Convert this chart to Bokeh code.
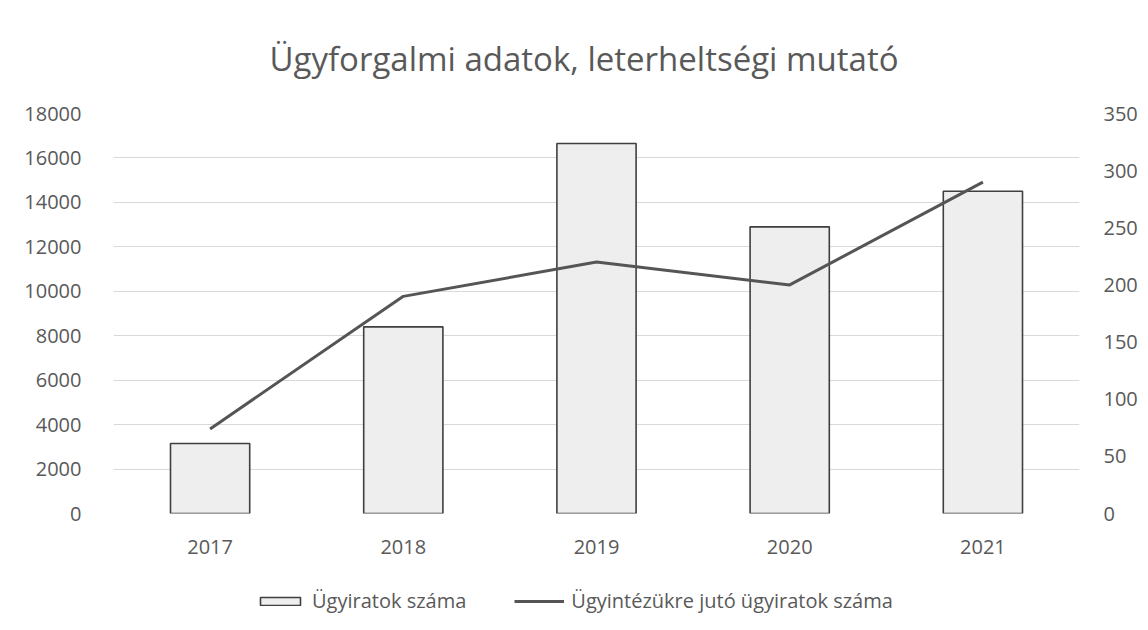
from bokeh.plotting import figure
from bokeh.layouts import column
from bokeh.models import (Range1d, LinearAxis, SingleIntervalTicker, Legend, LegendItem,
                          Title, FactorRange, ColumnDataSource)
from bokeh.embed import file_html
from bokeh.resources import INLINE

years = ["2017", "2018", "2019", "2020", "2021"]
ugyiratok = [3150, 8400, 16650, 12900, 14500]
per_ugyintezo = [74, 190, 220, 200, 290]
title_text = "Ügyforgalmi adatok, leterheltségi mutató"
bar_label = "Ügyiratok száma"
line_label = "Ügyintézükre jutó ügyiratok száma"

FONT = "Open Sans"
TXT = "#595959"
BAR_FILL = "#eeeeee"
BAR_LINE = "#3f3f3f"
LINE_COL = "#555555"

src = ColumnDataSource(dict(x=years, bars=ugyiratok, line=per_ugyintezo))

p = figure(width=1140, height=575, x_range=FactorRange(*years, range_padding=0),
           y_range=Range1d(0, 18000), output_backend="svg", toolbar_location=None,
           min_border_left=113, min_border_right=55, min_border_top=113, min_border_bottom=62)
p.extra_y_ranges = {"r": Range1d(0, 350)}
p.outline_line_color = None
p.background_fill_color = "white"
p.border_fill_color = "white"

p.add_layout(Title(text=title_text, align="left", offset=156, text_font=FONT,
                   text_font_size="33px", text_color=TXT, text_font_style="normal",
                   standoff=65), "above")

p.xgrid.grid_line_color = None
p.ygrid.grid_line_color = "#d9d9d9"
p.ygrid.grid_line_width = 1

yl = p.yaxis[0]
yl.ticker = SingleIntervalTicker(interval=2000)
yr = LinearAxis(y_range_name="r", ticker=SingleIntervalTicker(interval=50))
p.add_layout(yr, "right")

for ax in [p.xaxis[0], yl, yr]:
    ax.axis_line_color = None
    ax.major_tick_line_color = None
    ax.minor_tick_line_color = None
    ax.major_label_text_font = FONT
    ax.major_label_text_font_size = "20px"
    ax.major_label_text_color = TXT
yl.major_label_standoff = 26
yr.major_label_standoff = 18
p.xaxis[0].major_label_standoff = 20

p.vbar(x="x", top="bars", width=0.41, source=src, fill_color=BAR_FILL,
       line_color=BAR_LINE, line_width=1.6)
p.line(x="x", y="line", source=src, y_range_name="r", line_color=LINE_COL, line_width=3)

# legend strip below the chart (its renderers are hidden; only the legend shows)
lg = figure(width=1140, height=47, x_range=FactorRange(*years), y_range=Range1d(-200, -100),
            output_backend="svg", toolbar_location=None, min_border=0,
            x_axis_type=None, y_axis_type=None)
lg.grid.visible = False
lg.outline_line_color = None
rb = lg.vbar(x="x", top="bars", width=0.41, source=src, fill_color=BAR_FILL,
             line_color=BAR_LINE, line_width=1.6, visible=False)
rl = lg.line(x="x", y="line", source=src, line_color=LINE_COL, line_width=3, visible=False)
legend = Legend(items=[LegendItem(label=bar_label, renderers=[rb]),
                       LegendItem(label=line_label, renderers=[rl])],
                location=(142, 8), orientation="horizontal",
                label_text_font=FONT, label_text_font_size="20px", label_text_color=TXT,
                glyph_width=50, glyph_height=10, label_standoff=7, spacing=48,
                padding=0, margin=0, border_line_color=None, background_fill_alpha=0,
                label_height=20, inactive_fill_alpha=0)
lg.add_layout(legend, "center")

layout = column(p, lg, spacing=0)
open("out.html", "w").write(file_html(layout, INLINE))
